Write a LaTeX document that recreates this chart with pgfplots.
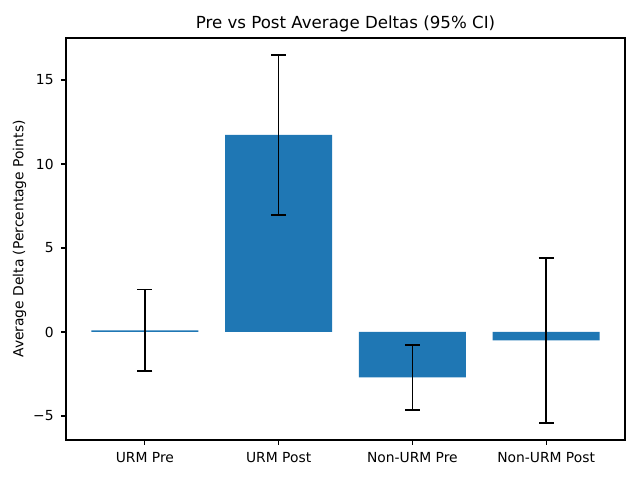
\documentclass[border=0pt]{standalone}
\usepackage{pgfplots}
\pgfplotsset{compat=1.18}
\usepackage{fontspec}
\setmainfont{DejaVu Sans}
\definecolor{mplblue}{HTML}{1F77B4}
\begin{document}
\begin{tikzpicture}
\useasboundingbox (-66bp,-40bp) rectangle (574bp,440bp);
\begin{axis}[
  at={(0,0)}, anchor=south west,
  scale only axis, width=559bp, height=402bp,
  xmin=-0.59, xmax=3.59, ymin=-6.43, ymax=17.5,
  xtick={0,1,2,3},
  xticklabels={URM Pre,URM Post,Non-URM Pre,Non-URM Post},
  ytick={-5,0,5,10,15},
  yticklabels={−5,0,5,10,15},
  tick align=outside, major tick length=4.9bp,
  tick style={black, line width=1.1bp},
  axis line style={line width=1.1bp},
  xtick pos=bottom, ytick pos=left,
  ticklabel style={font=\fontsize{13.9}{16}\selectfont},
  yticklabel style={xshift=-4bp},
  xticklabel style={yshift=-4bp},
  ylabel={Average Delta (Percentage Points)},
  ylabel style={font=\fontsize{13.9}{16}\selectfont},
  title={Pre vs Post Average Deltas (95\% CI)},
  title style={font=\fontsize{16.7}{19}\selectfont, yshift=-3bp},
  ybar, bar width=0.8, bar shift=0pt,
]
\addplot[fill=mplblue, draw=none,
  error bars/.cd, y dir=both, y explicit,
  error bar style={black, line width=1.6bp},
  error mark options={rotate=90, mark size=7.5bp, line width=1.6bp, black}]
  coordinates {
  (0,0.10) +- (0,2.42)
  (1,11.73) +- (0,4.75)
  (2,-2.70) +- (0,1.94)
  (3,-0.50) +- (0,4.91)
};
\end{axis}
\end{tikzpicture}
\end{document}
